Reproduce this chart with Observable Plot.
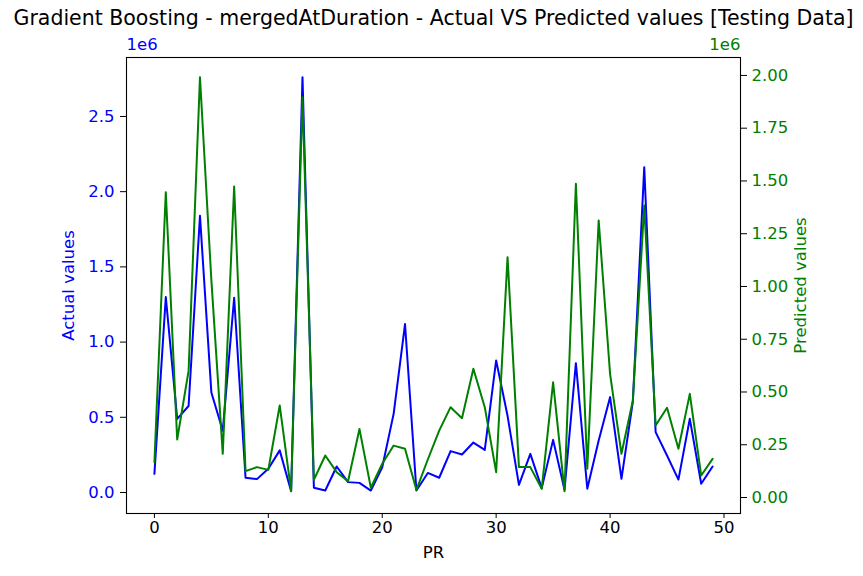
<!DOCTYPE html>
<html>
<head>
<meta charset="utf-8">
<script src="https://cdn.jsdelivr.net/npm/d3@7"></script>
<script src="https://cdn.jsdelivr.net/npm/@observablehq/plot@0.6"></script>
<style>
  html, body { margin: 0; padding: 0; background: white; }
</style>
</head>
<body>
<div id="chart"></div>
<script>
// ---- data (values in units of 1e6) ----
const prIndex = d3.range(50);
const actualValues = [
  0.124, 1.30, 0.49, 0.575, 1.84, 0.665, 0.41, 1.295, 0.098, 0.089,
  0.158, 0.28, 0.009, 2.76, 0.031, 0.013, 0.173, 0.069, 0.064, 0.013,
  0.168, 0.523, 1.12, 0.013, 0.13, 0.098, 0.275, 0.253, 0.332, 0.283,
  0.878, 0.51, 0.051, 0.257, 0.029, 0.35, 0.018, 0.86, 0.025, 0.346,
  0.634, 0.091, 0.605, 2.163, 0.401, 0.246, 0.086, 0.49, 0.058, 0.173
];
const predictedValues = [
  0.167, 1.447, 0.275, 0.60, 1.992, 1.03, 0.207, 1.474, 0.125, 0.144,
  0.131, 0.436, 0.03, 1.897, 0.084, 0.199, 0.12, 0.077, 0.325, 0.046,
  0.16, 0.246, 0.231, 0.036, 0.18, 0.317, 0.428, 0.376, 0.61, 0.428,
  0.12, 1.139, 0.144, 0.144, 0.041, 0.546, 0.03, 1.487, 0.136, 1.313,
  0.586, 0.207, 0.46, 1.384, 0.341, 0.425, 0.231, 0.491, 0.104, 0.183
];
const xTicks = [0, 10, 20, 30, 40, 50];
const leftTicks = [0, 0.5, 1.0, 1.5, 2.0, 2.5];
const rightTicks = [0, 0.25, 0.5, 0.75, 1.0, 1.25, 1.5, 1.75, 2.0];
const titleText = "Gradient Boosting - mergedAtDuration - Actual VS Predicted values [Testing Data]";

// ---- scales ----
const xDomain = [-2.45, 51.45];
const leftDomain = [-0.1396, 2.892];
const rightDomain = [-0.0758, 2.085];
// map right-axis value into left-axis space
const toLeft = p => leftDomain[0] + (p - rightDomain[0]) / (rightDomain[1] - rightDomain[0]) * (leftDomain[1] - leftDomain[0]);
const toRight = a => rightDomain[0] + (a - leftDomain[0]) / (leftDomain[1] - leftDomain[0]) * (rightDomain[1] - rightDomain[0]);

const actualData = prIndex.map((i) => ({x: i, y: actualValues[i]}));
const predictedData = prIndex.map((i) => ({x: i, y: toLeft(predictedValues[i])}));

const BLUE = "#0000ff";
const GREEN = "#008000";
const FS = 16.5;

const chart = Plot.plot({
  width: 863,
  height: 576,
  marginLeft: 126,
  marginRight: 123,
  marginTop: 57,
  marginBottom: 63,
  style: {fontFamily: "DejaVu Sans, sans-serif", fontSize: FS + "px", background: "white", color: "black"},
  x: {domain: xDomain, label: null},
  y: {domain: leftDomain, label: null},
  marks: [
    Plot.lineY(actualData, {x: "x", y: "y", stroke: BLUE, strokeWidth: 2}),
    Plot.lineY(predictedData, {x: "x", y: "y", stroke: GREEN, strokeWidth: 2}),
    Plot.frame({stroke: "black", strokeWidth: 1.1}),
    Plot.axisX({ticks: xTicks, tickSize: 5, tickPadding: 3, tickFormat: d => String(d), label: null, stroke: "black", fill: "black", fontSize: FS}),
    Plot.axisY({anchor: "left", ticks: leftTicks, tickSize: 6, tickPadding: 6, tickFormat: d => d.toFixed(1), label: null, stroke: "black", fill: BLUE, fontSize: FS}),
    Plot.axisY({anchor: "right", ticks: rightTicks.map(toLeft), tickSize: 6, tickPadding: 5, tickFormat: d => Math.abs(toRight(d)).toFixed(2), label: null, stroke: "black", fill: GREEN, fontSize: FS}),
    Plot.text([titleText], {frameAnchor: "top", lineAnchor: "middle", dy: -39, fontSize: 20.5, fill: "black"}),
    Plot.text(["1e6"], {frameAnchor: "top-left", lineAnchor: "middle", dy: -13, textAnchor: "start", fill: BLUE, fontSize: FS}),
    Plot.text(["1e6"], {frameAnchor: "top-right", lineAnchor: "middle", dy: -13, textAnchor: "end", fill: GREEN, fontSize: FS}),
    Plot.text(["PR"], {frameAnchor: "bottom", lineAnchor: "middle", dy: 39, fill: "black", fontSize: FS}),
    Plot.text(["Actual values"], {frameAnchor: "left", textAnchor: "middle", lineAnchor: "middle", dx: -58, rotate: -90, fill: BLUE, fontSize: FS}),
    Plot.text(["Predicted values"], {frameAnchor: "right", textAnchor: "middle", lineAnchor: "middle", dx: 60, rotate: -90, fill: GREEN, fontSize: FS})
  ]
});
document.getElementById("chart").appendChild(chart);
</script>
</body>
</html>
